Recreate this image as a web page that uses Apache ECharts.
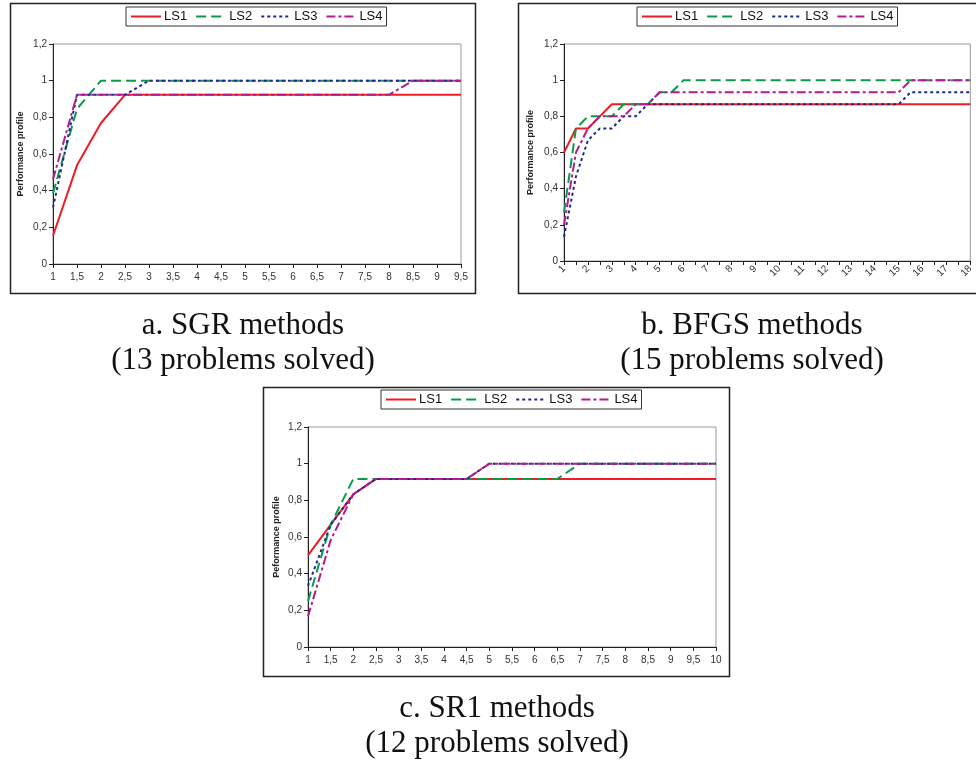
<!DOCTYPE html>
<html>
<head>
<meta charset="utf-8">
<title>Performance profiles</title>
<script src="https://cdn.jsdelivr.net/npm/echarts@6/dist/echarts.min.js"></script>
<style>
  html, body { margin: 0; padding: 0; background: #fff; }
  #chart { width: 976px; height: 762px; }
</style>
</head>
<body>
<div id="chart"></div>
<script>
// x categories (Excel line charts, so evenly spaced categories)
const sgrCats = ['1', '1,5', '2', '2,5', '3', '3,5', '4', '4,5', '5', '5,5', '6', '6,5', '7', '7,5', '8', '8,5', '9', '9,5']
const bfgsCats = ['1', '1,5', '2', '2,5', '3', '3,5', '4', '4,5', '5', '5,5', '6', '6,5', '7', '7,5', '8', '8,5', '9', '9,5',
  '10', '10,5', '11', '11,5', '12', '12,5', '13', '13,5', '14', '14,5', '15', '15,5', '16', '16,5', '17', '17,5', '18']
const sr1Cats = ['1', '1,5', '2', '2,5', '3', '3,5', '4', '4,5', '5', '5,5', '6', '6,5', '7', '7,5', '8', '8,5', '9', '9,5', '10']

const seriesNames = ['LS1', 'LS2', 'LS3', 'LS4']

// a. SGR (13 problems)
const sgrLS1 = [0.154, 0.538, 0.769, 0.923, 0.923, 0.923, 0.923, 0.923, 0.923, 0.923, 0.923, 0.923, 0.923, 0.923, 0.923, 0.923, 0.923, 0.923]
const sgrLS2 = [0.385, 0.846, 1, 1, 1, 1, 1, 1, 1, 1, 1, 1, 1, 1, 1, 1, 1, 1]
const sgrLS3 = [0.308, 0.923, 0.923, 0.923, 1, 1, 1, 1, 1, 1, 1, 1, 1, 1, 1, 1, 1, 1]
const sgrLS4 = [0.462, 0.923, 0.923, 0.923, 0.923, 0.923, 0.923, 0.923, 0.923, 0.923, 0.923, 0.923, 0.923, 0.923, 0.923, 1, 1, 1]

// b. BFGS (15 problems)
const bfgsLS1 = [0.6, 0.733, 0.733, 0.8, 0.867, 0.867, 0.867, 0.867, 0.867, 0.867, 0.867, 0.867, 0.867, 0.867, 0.867, 0.867, 0.867, 0.867,
  0.867, 0.867, 0.867, 0.867, 0.867, 0.867, 0.867, 0.867, 0.867, 0.867, 0.867, 0.867, 0.867, 0.867, 0.867, 0.867, 0.867]
const bfgsLS2 = [0.267, 0.733, 0.8, 0.8, 0.8, 0.867, 0.867, 0.867, 0.933, 0.933, 1, 1, 1, 1, 1, 1, 1, 1,
  1, 1, 1, 1, 1, 1, 1, 1, 1, 1, 1, 1, 1, 1, 1, 1, 1]
const bfgsLS3 = [0.133, 0.467, 0.667, 0.733, 0.733, 0.8, 0.8, 0.867, 0.867, 0.867, 0.867, 0.867, 0.867, 0.867, 0.867, 0.867, 0.867, 0.867,
  0.867, 0.867, 0.867, 0.867, 0.867, 0.867, 0.867, 0.867, 0.867, 0.867, 0.867, 0.933, 0.933, 0.933, 0.933, 0.933, 0.933]
const bfgsLS4 = [0.2, 0.6, 0.733, 0.8, 0.8, 0.8, 0.867, 0.867, 0.933, 0.933, 0.933, 0.933, 0.933, 0.933, 0.933, 0.933, 0.933, 0.933,
  0.933, 0.933, 0.933, 0.933, 0.933, 0.933, 0.933, 0.933, 0.933, 0.933, 0.933, 1, 1, 1, 1, 1, 1]

// c. SR1 (12 problems)
const sr1LS1 = [0.5, 0.667, 0.833, 0.917, 0.917, 0.917, 0.917, 0.917, 0.917, 0.917, 0.917, 0.917, 0.917, 0.917, 0.917, 0.917, 0.917, 0.917, 0.917]
const sr1LS2 = [0.25, 0.667, 0.917, 0.917, 0.917, 0.917, 0.917, 0.917, 0.917, 0.917, 0.917, 0.917, 1, 1, 1, 1, 1, 1, 1]
const sr1LS3 = [0.333, 0.667, 0.833, 0.917, 0.917, 0.917, 0.917, 0.917, 1, 1, 1, 1, 1, 1, 1, 1, 1, 1, 1]
const sr1LS4 = [0.167, 0.583, 0.833, 0.917, 0.917, 0.917, 0.917, 0.917, 1, 1, 1, 1, 1, 1, 1, 1, 1, 1, 1]

const yTicks = ['0', '0,2', '0,4', '0,6', '0,8', '1', '1,2']

// line looks per method
const lineLooks = [
  { color: '#ee1c24', type: 'solid' },
  { color: '#0b9a4a', type: [10, 5] },
  { color: '#1d2a8c', type: [3, 3] },
  { color: '#b31b8f', type: [9, 3, 3, 3] }
]

const panels = [
  {
    cats: sgrCats, data: [sgrLS1, sgrLS2, sgrLS3, sgrLS4], yName: 'Performance profile',
    grid: { left: 53, right: 515, top: 44, bottom: 498 },
    legend: { left: 126, top: 7 },
    rotate: 0, labelInterval: 0, nameGap: 28
  },
  {
    cats: bfgsCats, data: [bfgsLS1, bfgsLS2, bfgsLS3, bfgsLS4], yName: 'Performance profile',
    grid: { left: 564, right: 5, top: 44, bottom: 501 },
    legend: { left: 637, top: 7 },
    rotate: 45, labelInterval: 1, nameGap: 29
  },
  {
    cats: sr1Cats, data: [sr1LS1, sr1LS2, sr1LS3, sr1LS4], yName: 'Peformance profile',
    grid: { left: 308, right: 260, top: 427, bottom: 115 },
    legend: { left: 381, top: 390 },
    rotate: 0, labelInterval: 0, nameGap: 27
  }
]

const chart = echarts.init(document.getElementById('chart'), null, { renderer: 'canvas' })

const tickFont = { fontFamily: 'Liberation Sans, Arial, sans-serif', fontSize: 10, color: '#333' }

const grids = []
const xAxes = []
const yAxes = []
const legends = []
const series = []

panels.forEach((p, i) => {
  grids.push(Object.assign({ show: true, borderColor: '#9a9a9a', borderWidth: 1, backgroundColor: '#fff' }, p.grid))
  xAxes.push({
    type: 'category',
    gridIndex: i,
    data: p.cats,
    boundaryGap: false,
    axisLine: { lineStyle: { color: '#222', width: 1 } },
    axisTick: { show: true, interval: 0, length: 4, lineStyle: { color: '#222' } },
    axisLabel: Object.assign({ interval: p.labelInterval, rotate: p.rotate, margin: p.rotate ? 6 : 8 }, tickFont),
    splitLine: { show: false }
  })
  yAxes.push({
    type: 'value',
    gridIndex: i,
    min: 0,
    max: 1.2,
    interval: 0.2,
    name: p.yName,
    nameLocation: 'middle',
    nameGap: p.nameGap,
    nameRotate: 90,
    nameTextStyle: { fontFamily: 'Liberation Sans, Arial, sans-serif', fontSize: 9, fontWeight: 'bold', color: '#222' },
    axisLine: { show: true, lineStyle: { color: '#222', width: 1 } },
    axisTick: { show: true, length: 4, lineStyle: { color: '#222' } },
    axisLabel: Object.assign({
      margin: 6,
      formatter: v => yTicks[Math.round(v / 0.2)]
    }, tickFont),
    splitLine: { show: false }
  })
  legends.push({
    data: seriesNames,
    left: p.legend.left,
    top: p.legend.top,
    orient: 'horizontal',
    itemWidth: 30,
    itemHeight: 14,
    itemGap: 8,
    padding: [3, 4],
    borderColor: '#333',
    borderWidth: 1,
    backgroundColor: '#fff',
    selectedMode: false,
    // hide the marker dot, keep only the line sample
    itemStyle: { opacity: 0 },
    textStyle: { fontFamily: 'Liberation Sans, Arial, sans-serif', fontSize: 13, color: '#111', padding: [0, 0, 0, -2] }
  })
  p.data.forEach((vals, k) => {
    series.push({
      name: seriesNames[k],
      type: 'line',
      xAxisIndex: i,
      yAxisIndex: i,
      data: vals,
      symbol: 'none',
      smooth: false,
      animation: false,
      color: lineLooks[k].color,
      lineStyle: { color: lineLooks[k].color, width: 2, type: lineLooks[k].type }
    })
  })
})

// panel frames + captions underneath
const captionFont = 'Liberation Serif, "Times New Roman", serif'
const caption = (x, y, text) => ({
  type: 'text',
  x: x,
  y: y,
  style: { text: text, font: '31px ' + captionFont, fill: '#111', align: 'center', verticalAlign: 'middle' },
  silent: true
})
const frame = (x, y, w, h) => ({
  type: 'rect',
  shape: { x: x, y: y, width: w, height: h },
  style: { fill: null, stroke: '#222', lineWidth: 1.5 },
  z: -1,
  silent: true
})

chart.setOption({
  backgroundColor: '#fff',
  animation: false,
  grid: grids,
  xAxis: xAxes,
  yAxis: yAxes,
  legend: legends,
  series: series,
  graphic: [
    frame(10.5, 3.5, 465, 290),
    frame(518.5, 3.5, 470, 290),
    frame(263.5, 387.5, 466, 289),
    caption(243, 326, 'a. SGR methods'),
    caption(243, 361, '(13 problems solved)'),
    caption(752, 326, 'b. BFGS methods'),
    caption(752, 361, '(15 problems solved)'),
    caption(497, 709, 'c. SR1 methods'),
    caption(497, 744, '(12 problems solved)')
  ]
})
</script>
</body>
</html>
